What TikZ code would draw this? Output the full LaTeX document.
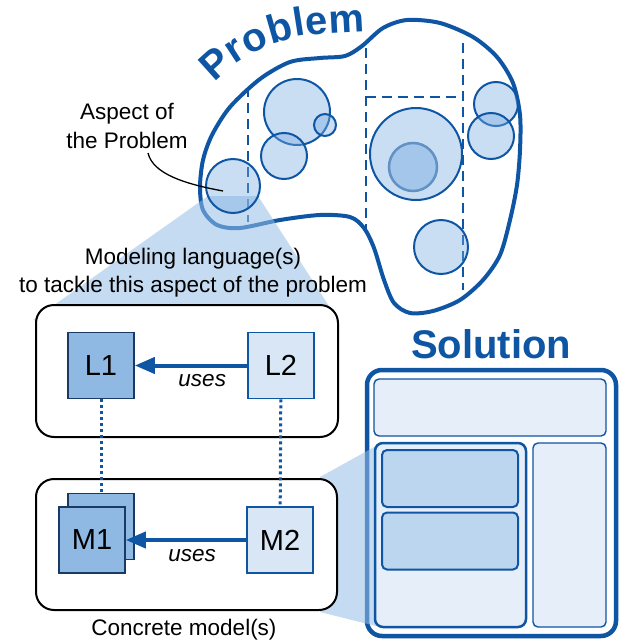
\documentclass[tikz,border=0pt]{standalone}
\usepackage{fontspec}
\setmainfont{Liberation Sans}
\usetikzlibrary{arrows.meta}
\definecolor{probblue}{RGB}{14,86,163}
\definecolor{navyline}{RGB}{24,58,100}
\definecolor{darkfill}{RGB}{143,184,226}
\definecolor{lightfill}{RGB}{216,230,246}
\definecolor{panelfill}{RGB}{230,239,249}
\definecolor{slotfill}{RGB}{188,214,239}
\definecolor{circfill}{RGB}{120,170,225}
\definecolor{beamfill}{RGB}{150,190,232}
\newcommand\lblfont{\fontsize{22.5}{28.5}\selectfont}
\tikzset{%
	aspect circle/.style={
		circle,
		draw=probblue,
		line width=2pt,
		fill=circfill,
		fill opacity=0.4,
		inner sep=0pt
	},
	core circle/.style={
		circle,
		draw=probblue!65,
		line width=2.5pt,
		fill=circfill,
		fill opacity=0.45,
		inner sep=0pt
	},
	problem letter/.style={
		anchor=base,
		inner sep=0pt,
		text=probblue,
		font=\fontsize{40}{40}\selectfont\bfseries
	},
	lang dark/.style={
		draw=navyline,
		fill=darkfill,
		line width=1.6pt,
		minimum size=66pt,
		inner sep=0pt,
		font=\fontsize{29}{29}\selectfont
	},
	lang light/.style={
		draw=probblue,
		fill=lightfill,
		line width=1.6pt,
		minimum size=66pt,
		inner sep=0pt,
		font=\fontsize{29}{29}\selectfont
	},
	group box/.style={
		draw=black,
		fill=white,
		line width=2pt,
		rounded corners=18pt,
		inner sep=0pt
	},
	panel/.style={
		draw=probblue,
		fill=panelfill,
		line width=1.4pt,
		rounded corners=5pt,
		inner sep=0pt
	},
	slot/.style={
		draw=probblue,
		fill=slotfill,
		line width=2pt,
		rounded corners=5pt,
		inner sep=0pt
	},
	uses arrow/.style={
		probblue,
		line width=4pt,
		-{Triangle[length=20pt,width=16pt]}
	},
	trace/.style={
		probblue,
		line width=3pt,
		dash pattern=on 3pt off 3pt
	},
	split/.style={
		probblue,
		line width=2pt,
		dash pattern=on 10pt off 6pt
	},
	beam/.style={
		fill=beamfill,
		fill opacity=0.55,
		draw=none
	},
}

\begin{document}
\begin{tikzpicture}[x=1pt, y=-1pt, font=\lblfont]
		
		\useasboundingbox (0,0) rectangle (618,642);
		
		% the problem
		\draw [probblue, line width=4pt] plot [smooth cycle, tension=0.5] coordinates {
			(200,187) (203,160) (212,135) (230,107) (260,79) (290,62) (320,58)
			(345,56) (362,46) (383,28) (407,20) (440,23) (473,37) (497,57)
			(513,83) (520,115) (520,150) (517,185) (510,220) (500,255) (483,280)
			(460,300) (433,311) (410,313) (394,303) (384,280) (374,248) (364,228)
			(350,217) (320,215) (280,220) (240,228) (217,225) (203,210)};
		
		\draw [split] (248,87) -- (248,222);
		\draw [split] (366,48) -- (366,230);
		\draw [split] (463,43) -- (463,290);
		\draw [split] (366,97) -- (463,97);
		
		\foreach \ch/\px/\py/\ang [count=\i] in {P/224/74/42, r/241/60.5/33, o/259.5/50.5/26,
			b/283/41/16, l/301/36/9, e/318/34.5/5, m/347/33/3}
		\node [problem letter, rotate=\ang] (letter-\i) at (\px,\py) {\ch};
		
		% beam to the language box
		\path [beam] (208,196) -- (258,196) -- (338,320) -- (33,320) -- cycle;
		
		\foreach \cx/\cy/\r [count=\i] in {233/186/27, 297/112/33, 325/125/11,
			284/156/23, 416/154/46, 441/247/27, 496/104/22, 491/136/23}
		\node [aspect circle, minimum size=2*\r] (circle-\i) at (\cx,\cy) {};
		
		\node [core circle, minimum size=48] (core) at (413,167) {};
		
		\node [align=center] (aspect-label) at (127,126) {Aspect of\\the Problem};
		\coordinate (leader-start) at (148,153);
		\coordinate (leader-end) at (223,191);
		\draw [line width=1.3pt] (leader-start) .. controls (153,174) and (185,184) .. (leader-end);
		
		\node [align=center] (lang-label) at (193,272.5)
		{Modeling language(s)\\to tackle this aspect of the problem};
		
		% the solution
		\node [font=\fontsize{40}{40}\selectfont\bfseries, text=probblue] (solution-label) at (491,344) {Solution};
		
		\node [panel, draw=probblue, fill=white, line width=4.5pt, rounded corners=15pt,
			minimum width=249, minimum height=266] (solution) at (491.5,503) {};
		
		\path [beam] (320,477) -- (376,446) -- (376,626) -- (320,612) -- cycle;
		
		\node [panel, minimum width=232, minimum height=57] (top-panel) at (490,407.5) {};
		\node [panel, line width=2.5pt, rounded corners=8pt,
			minimum width=151, minimum height=184] (left-panel) at (450.5,535) {};
		\node [panel, minimum width=73, minimum height=184] (right-panel) at (569.5,535) {};
		
		\foreach \cy [count=\i] in {478.5, 541}
		\node [slot, minimum width=136, minimum height=57] (slot-\i) at (450,\cy) {};
		
		% languages and models
		\node [group box, minimum width=302, minimum height=132] (lang-box) at (187,371) {};
		\node [group box, minimum width=301, minimum height=131] (model-box) at (186.5,544.5) {};
		
		\node [lang dark] (L1) at (101,365.5) {L1};
		\node [lang light] (L2) at (281,365.5) {L2};
		
		\node [lang dark] (M1-back) at (101,526.5) {};
		\node [lang dark] (M1) at (92,540) {M1};
		\node [lang light] (M2) at (280,540) {M2};
		
		\draw [uses arrow] (L2) -- (L1)
		node [pos=0.4, below=4pt, black, font=\lblfont\itshape] {uses};
		\draw [uses arrow] (M2) -- (M1)
		node [pos=0.45, below=4pt, black, font=\lblfont\itshape] {uses};
		
		\draw [trace] (L1) -- (M1-back);
		\draw [trace] (L2) -- (M2);
		
		\node (model-label) at (184,630) {Concrete model(s)};
		
		\end{tikzpicture}
\end{document}
